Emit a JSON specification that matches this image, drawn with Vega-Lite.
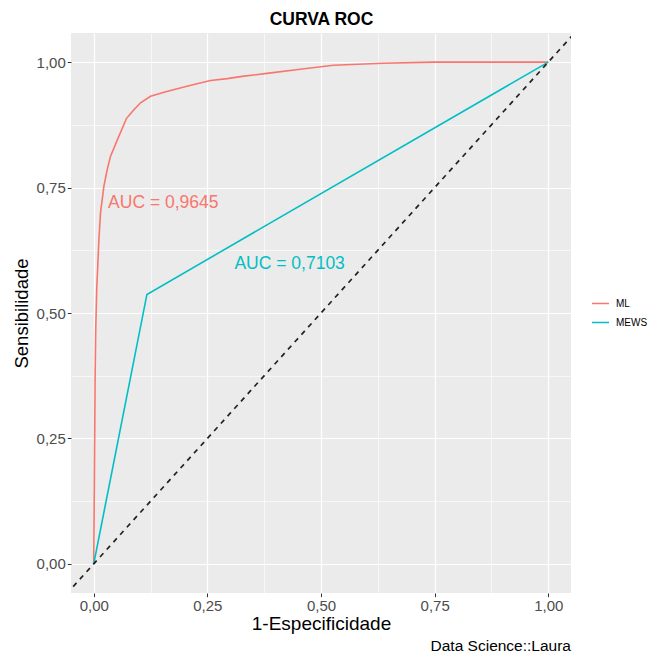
{
  "$schema": "https://vega.github.io/schema/vega-lite/v6.json",
  "width": 500,
  "height": 560,
  "autosize": {"type": "none"},
  "padding": {"left": 71, "top": 33, "right": 86, "bottom": 65},
  "background": "white",
  "config": {
    "font": "Liberation Sans",
    "view": {"fill": "#EBEBEB", "stroke": null},
    "axis": {
      "grid": true,
      "gridColor": "white",
      "gridWidth": {"condition": {"test": "abs(datum.value * 4 - round(datum.value * 4)) > 0.001", "value": 0.6}, "value": 1.2},
      "domain": false,
      "tickColor": "#333333",
      "tickOpacity": {"condition": {"test": "abs(datum.value * 4 - round(datum.value * 4)) > 0.001", "value": 0}, "value": 1},
      "tickSize": 3.7,
      "tickWidth": 1,
      "labelOverlap": false,
      "labelExpr": "abs(datum.value * 4 - round(datum.value * 4)) > 0.001 ? '' : replace(format(datum.value, '.2f'), '.', ',')",
      "labelColor": "#4D4D4D",
      "labelFontSize": 15,
      "labelPadding": 2,
      "titleColor": "black",
      "titleFontWeight": "normal",
      "titleFontSize": 18.5
    }
  },
  "title": {
    "text": "Data Science::Laura",
    "orient": "bottom",
    "anchor": "end",
    "frame": "group",
    "fontSize": 15.5,
    "fontWeight": "normal",
    "color": "black",
    "offset": 5
  },
  "datasets": {
    "roc": [
      {"model": "ML", "fpr": 0, "tpr": 0},
      {"model": "ML", "fpr": 0.002, "tpr": 0.228},
      {"model": "ML", "fpr": 0.003, "tpr": 0.367},
      {"model": "ML", "fpr": 0.0044, "tpr": 0.467},
      {"model": "ML", "fpr": 0.0066, "tpr": 0.547},
      {"model": "ML", "fpr": 0.0114, "tpr": 0.6465},
      {"model": "ML", "fpr": 0.015, "tpr": 0.7},
      {"model": "ML", "fpr": 0.0224, "tpr": 0.753},
      {"model": "ML", "fpr": 0.0297, "tpr": 0.786},
      {"model": "ML", "fpr": 0.037, "tpr": 0.8126},
      {"model": "ML", "fpr": 0.0554, "tpr": 0.8525},
      {"model": "ML", "fpr": 0.0722, "tpr": 0.888},
      {"model": "ML", "fpr": 0.0884, "tpr": 0.905},
      {"model": "ML", "fpr": 0.103, "tpr": 0.919},
      {"model": "ML", "fpr": 0.125, "tpr": 0.932},
      {"model": "ML", "fpr": 0.1545, "tpr": 0.94},
      {"model": "ML", "fpr": 0.1837, "tpr": 0.947},
      {"model": "ML", "fpr": 0.2205, "tpr": 0.9555},
      {"model": "ML", "fpr": 0.257, "tpr": 0.9635},
      {"model": "ML", "fpr": 0.2937, "tpr": 0.967},
      {"model": "ML", "fpr": 0.3305, "tpr": 0.972},
      {"model": "ML", "fpr": 0.381, "tpr": 0.9775},
      {"model": "ML", "fpr": 0.4543, "tpr": 0.9856},
      {"model": "ML", "fpr": 0.527, "tpr": 0.9936},
      {"model": "ML", "fpr": 0.637, "tpr": 0.9976},
      {"model": "ML", "fpr": 0.747, "tpr": 1},
      {"model": "ML", "fpr": 0.857, "tpr": 1},
      {"model": "ML", "fpr": 1, "tpr": 1},
      {"model": "MEWS", "fpr": 0, "tpr": 0},
      {"model": "MEWS", "fpr": 0.117, "tpr": 0.537},
      {"model": "MEWS", "fpr": 1, "tpr": 1}
    ],
    "diag": [
      {"fpr": -0.06, "tpr": -0.06},
      {"fpr": 1.06, "tpr": 1.06}
    ],
    "auc": [
      {"model": "ML", "fpr": 0.153, "tpr": 0.72, "label": "AUC = 0,9645"},
      {"model": "MEWS", "fpr": 0.431, "tpr": 0.597, "label": "AUC = 0,7103"}
    ]
  },
  "resolve": {"axis": {"x": "independent"}},
  "layer": [
    {
      "data": {"name": "roc"},
      "mark": {"type": "line", "strokeWidth": 1.6},
      "encoding": {
        "x": {
          "field": "fpr", "type": "quantitative",
          "scale": {"domain": [-0.05, 1.05], "nice": false, "zero": false},
          "axis": {"orient": "bottom", "title": "1-Especificidade", "titlePadding": 1, "labelOverlap": false, "titleFontSize": 19,
                   "values": [0, 0.125, 0.25, 0.375, 0.5, 0.625, 0.75, 0.875, 1]}
        },
        "y": {
          "field": "tpr", "type": "quantitative",
          "scale": {"domain": [-0.058, 1.058], "nice": false, "zero": false},
          "axis": {"title": "Sensibilidade", "titlePadding": 5, "labelOverlap": false,
                   "values": [0, 0.125, 0.25, 0.375, 0.5, 0.625, 0.75, 0.875, 1]}
        },
        "color": {
          "field": "model", "type": "nominal",
          "scale": {"domain": ["ML", "MEWS"], "range": ["#F8766D", "#00BFC4"]},
          "legend": {
            "title": null,
            "orient": "none",
            "legendX": 520,
            "legendY": 261,
            "symbolType": "stroke",
            "symbolSize": 289,
            "symbolStrokeWidth": 1.5,
            "labelFontSize": 10,
            "labelColor": "black",
            "rowPadding": 4,
            "labelOffset": 6
          }
        }
      }
    },
    {
      "data": {"name": "diag"},
      "mark": {"type": "line", "color": "#222222", "strokeWidth": 1.7, "strokeDash": [5, 5], "clip": true},
      "encoding": {
        "x": {
          "field": "fpr", "type": "quantitative",
          "axis": {
            "orient": "top", "title": "CURVA ROC", "labels": false, "ticks": false, "grid": false, "domain": false,
            "titleFontWeight": "bold", "titleFontSize": 17.5, "titlePadding": 5
          }
        },
        "y": {"field": "tpr", "type": "quantitative"}
      }
    },
    {
      "data": {"name": "auc"},
      "mark": {"type": "text", "fontSize": 17.5, "align": "center", "baseline": "middle"},
      "encoding": {
        "x": {"field": "fpr", "type": "quantitative", "axis": null},
        "y": {"field": "tpr", "type": "quantitative"},
        "text": {"field": "label"},
        "color": {"field": "model", "type": "nominal", "legend": null}
      }
    }
  ]
}
